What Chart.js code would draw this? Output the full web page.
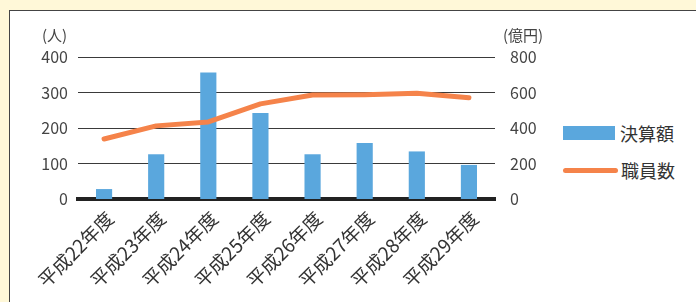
<!DOCTYPE html>
<html>
<head>
<meta charset="utf-8">
<script src="https://cdn.jsdelivr.net/npm/chart.js@4"></script>
<style>
  body { margin: 0; background: #fff8d8; font-family: "Noto Sans CJK JP", sans-serif; }
  .panel { position: absolute; left: 9px; top: 10px; width: 700px; height: 320px; background: #fff; border: 1px solid #444; }
  .wrap { position: absolute; left: 0; top: 0; width: 560px; height: 302px; }
  .unit { position: absolute; top: 24px; font-size: 15px; color: #444; }
  .legend { position: absolute; left: 563px; font-size: 18px; color: #333; }
  .legend span { display: inline-block; vertical-align: middle; }
</style>
</head>
<body>
<div class="panel"></div>
<div class="wrap"><canvas id="chart" width="560" height="302"></canvas></div>
<div class="unit" style="left:42px">(人)</div>
<div class="unit" style="left:503px">(億円)</div>
<div class="legend" style="top:117px"><span style="width:52px;height:14px;background:#5aa7dd;margin-right:5px"></span><span>決算額</span></div>
<div class="legend" style="top:154px"><span style="width:55px;height:5px;border-radius:3px;background:#f5834a;margin-right:3px"></span><span>職員数</span></div>
<script>
// 年度
const categories = ['平成22年度', '平成23年度', '平成24年度', '平成25年度', '平成26年度', '平成27年度', '平成28年度', '平成29年度'];
// 決算額（億円）
const budget = [56, 252, 712, 484, 252, 316, 268, 192];
// 職員数（人）
const staff = [169, 206, 217, 268, 293, 294, 298, 285];
const leftTicks = [0, 100, 200, 300, 400];
const rightTicks = [0, 200, 400, 600, 800];

const font = { family: '"Noto Sans CJK JP", sans-serif', size: 16 };

new Chart(document.getElementById('chart').getContext('2d'), {
  type: 'bar',
  data: {
    labels: categories,
    datasets: [
      {
        type: 'line',
        label: '職員数',
        data: staff,
        yAxisID: 'y',
        borderColor: '#f5834a',
        borderWidth: 5,
        borderCapStyle: 'round',
        borderJoinStyle: 'round',
        pointRadius: 0,
        tension: 0,
        order: 0
      },
      {
        label: '決算額',
        data: budget,
        yAxisID: 'y1',
        backgroundColor: '#5aa7dd',
        barPercentage: 0.31,
        categoryPercentage: 1,
        order: 1
      }
    ]
  },
  options: {
    responsive: false,
    animation: false,
    devicePixelRatio: 1,
    layout: { padding: { top: 57, left: 0, right: 0, bottom: 0 } },
    plugins: { legend: { display: false }, tooltip: { enabled: false } },
    scales: {
      x: {
        offset: true,
        grid: { display: false },
        border: { display: true, color: '#222', width: 4 },
        ticks: { color: '#333', font: { ...font, size: 19 }, minRotation: 45, maxRotation: 45, autoSkip: false, padding: 0, labelOffset: 6 },
        afterFit: s => { s.height = 103; }
      },
      y: {
        position: 'left',
        min: 0, max: 400,
        afterBuildTicks: s => { s.ticks = leftTicks.map(v => ({ value: v })); },
        grid: {
          color: '#3a3a3a',
          lineWidth: c => (c.tick.value === 0 ? 0 : 1),
          drawTicks: false
        },
        border: { display: false },
        ticks: { color: '#444', font: font, padding: 10 },
        afterFit: s => { s.width = 78; }
      },
      y1: {
        position: 'right',
        min: 0, max: 800,
        afterBuildTicks: s => { s.ticks = rightTicks.map(v => ({ value: v })); },
        grid: { display: false, drawTicks: false },
        border: { display: false },
        ticks: { color: '#444', font: font, padding: 15 },
        afterFit: s => { s.width = 65; }
      }
    }
  }
});
</script>
</body>
</html>
